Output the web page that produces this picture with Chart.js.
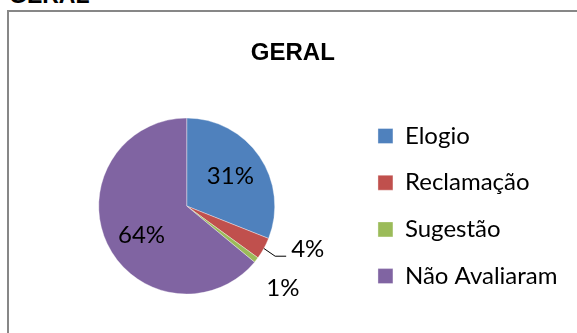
<!DOCTYPE html>
<html>
<head>
<meta charset="utf-8">
<script src="https://cdn.jsdelivr.net/npm/chart.js@4"></script>
<style>
  html, body { margin: 0; padding: 0; background: #fff; overflow: hidden; }
  body { width: 577px; height: 333px; position: relative; }
  #heading {
    position: absolute; left: 9px; top: -16.5px;
    font: bold 23px "Liberation Sans", sans-serif; line-height: 23px; color: #000;
  }
  #frame {
    position: absolute; left: 7px; top: 10px; width: 600px; height: 400px;
    border-left: 2px solid #878787; border-top: 2px solid #878787;
  }
  #wrap { position: absolute; left: 0; top: 0; width: 577px; height: 333px; }
</style>
</head>
<body>
<div id="heading">GERAL</div>
<div id="frame"></div>
<div id="wrap"><canvas id="pieCanvas"></canvas></div>
<script>
const categories = ['Elogio', 'Reclamação', 'Sugestão', 'Não Avaliaram'];
const shares = [31, 4, 1, 64];
const sliceColors = ['#4F81BD', '#C0504D', '#9BBB59', '#8064A2'];

// percentage labels: big slices inside, small ones pushed outside
const sliceLabels = {
  id: 'sliceLabels',
  afterDatasetsDraw(chart, args, opts) {
    const ctx = chart.ctx;
    const meta = chart.getDatasetMeta(0);
    const values = chart.data.datasets[0].data;
    const total = values.reduce((a, b) => a + b, 0);
    ctx.save();
    ctx.font = opts.font;
    ctx.fillStyle = '#000';
    ctx.textAlign = 'center';
    ctx.textBaseline = 'middle';
    meta.data.forEach((arc, i) => {
      const {x, y, startAngle, endAngle, outerRadius} = arc.getProps(['x', 'y', 'startAngle', 'endAngle', 'outerRadius'], true);
      const mid = (startAngle + endAngle) / 2;
      const text = Math.round(values[i] / total * 100) + '%';
      const place = opts.place[i] || { shift: 0, dist: opts.insideRatio };
      const a = mid + place.shift;
      const r = outerRadius * place.dist;
      const tx = x + Math.cos(a) * r;
      const ty = y + Math.sin(a) * r;
      ctx.fillText(text, tx, ty);
      if (place.leader) {
        const left = tx - ctx.measureText(text).width / 2;
        ctx.beginPath();
        ctx.lineWidth = 1;
        ctx.strokeStyle = '#000';
        ctx.moveTo(x + Math.cos(mid) * outerRadius, y + Math.sin(mid) * outerRadius);
        ctx.lineTo(left - 16, ty + 7);
        ctx.lineTo(left - 5, ty + 7);
        ctx.stroke();
      }
    });
    ctx.restore();
  }
};

new Chart(document.getElementById('pieCanvas'), {
  type: 'pie',
  data: {
    labels: categories,
    datasets: [{
      data: shares,
      radius: 88,
      backgroundColor: sliceColors,
      borderColor: 'rgba(255,255,255,0.6)',
      borderWidth: 0.6
    }]
  },
  options: {
    animation: false,
    responsive: true,
    maintainAspectRatio: false,
    layout: {
      padding: { top: 20, bottom: 16.9, left: 18.2, right: 9.5 }
    },
    plugins: {
      tooltip: { enabled: false },
      title: {
        display: true,
        text: 'GERAL',
        color: '#000',
        font: { family: '"Liberation Sans", sans-serif', size: 24, weight: 'bold', lineHeight: 1.2 },
        padding: { top: 18.6, bottom: 28.6 }
      },
      legend: {
        position: 'right',
        fullSize: false,
        labels: {
          color: '#000',
          boxWidth: 15,
          boxHeight: 15,
          padding: 22.7,
          font: { family: 'Lato', size: 24 }
        }
      },
      sliceLabels: {
        font: '24px Lato',
        insideRatio: 0.6,
        place: {
          1: { shift: -0.16, dist: 1.46, leader: true },
          2: { shift: 0.05, dist: 1.44 },
          3: { shift: -0.13, dist: 0.61 }
        }
      }
    }
  },
  plugins: [sliceLabels]
});
</script>
</body>
</html>
